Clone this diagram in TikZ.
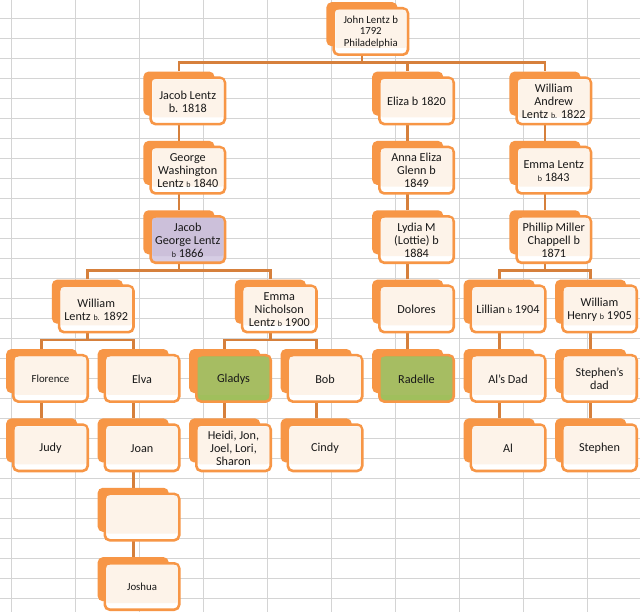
\documentclass[tikz,border=0pt]{standalone}
\usepackage{fontspec}
\setmainfont{Carlito}
\usetikzlibrary{calc}
\pgfdeclarelayer{bg}
\pgfsetlayers{bg,main}
\definecolor{acc}{RGB}{247,150,70}
\definecolor{connc}{RGB}{214,128,60}
\definecolor{cream}{RGB}{253,243,233}
\definecolor{gridc}{RGB}{212,212,212}
\definecolor{purpA}{RGB}{214,205,228}
\definecolor{purpB}{RGB}{204,192,218}
\definecolor{greenA}{RGB}{160,191,92}
\definecolor{greenB}{RGB}{166,189,98}
\definecolor{txtc}{RGB}{25,25,25}
\tikzset{
 backbox/.style={anchor=north west, fill=acc, rounded corners=5pt, minimum width=71pt, minimum height=44pt, inner sep=0pt},
 frontbox/.style={draw=acc, line width=2.6pt, rounded corners=5pt, minimum width=74.4pt, minimum height=46.4pt, inner sep=0pt},
 innerbox/.style={rounded corners=2pt, minimum width=71pt, minimum height=38pt, inner sep=0pt},
 fplain/.style={fill=white}, iplain/.style={fill=cream},
 fpurple/.style={fill=purpA}, ipurple/.style={fill=purpB},
 fgreen/.style={fill=greenA}, igreen/.style={fill=greenB},
 txt/.style={align=center, font=\fontsize{12.2}{13}\selectfont, text=txtc, inner sep=0pt},
 stxt/.style={txt, font=\fontsize{10.8}{11.6}\selectfont},
 connline/.style={draw=connc, line width=2.7pt},
 gridline/.style={draw=gridc, line width=1pt},
}
\newcommand{\bsm}{{\fontsize{8}{8}\selectfont b}}
\newcommand{\bsmd}{{\fontsize{8}{8}\selectfont b.}}
\newcommand{\famnode}[6]{%
 \node[backbox] (#2) at (#3,#4) {};
 \node[frontbox, f#1] (#2-f) at ($(#2.north west)+(44.5,29.5)$) {};
 \node[innerbox, i#1] (#2-i) at ($(#2.north west)+(44.5,27)$) {};
 \node[#5] (#2-t) at ($(#2.north west)+(44.5,30)$) {#6};
}
\newcommand{\link}[2]{\draw[connline] (#1.south) |- ([yshift=9pt]#2.north) -- (#2.north);}
\begin{document}
\begin{tikzpicture}[x=1pt, y=-1pt]
\useasboundingbox (0,0) rectangle (640,612);
% row 0
\famnode{plain}{john}{326.25}{2}{stxt}{John Lentz b\\1792\\Philadelphia}
% row 1
\famnode{plain}{jacob}{143.25}{71.4}{txt}{Jacob Lentz\\b. 1818}
\famnode{plain}{eliza}{372}{71.4}{txt}{Eliza b 1820}
\famnode{plain}{willa}{509.25}{71.4}{txt}{William\\Andrew\\Lentz \bsmd{} 1822}
% row 2
\famnode{plain}{george}{143.25}{140.75}{txt}{George\\Washington\\Lentz \bsm{} 1840}
\famnode{plain}{anna}{372}{140.75}{txt}{Anna Eliza\\Glenn b\\1849}
\famnode{plain}{emma}{509.25}{140.75}{txt}{Emma Lentz\\\bsm{} 1843}
% row 3
\famnode{purple}{jacobg}{143.25}{210.1}{txt}{Jacob\\George Lentz\\\bsm{} 1866}
\famnode{plain}{lydia}{372}{210.1}{txt}{Lydia M\\(Lottie) b\\1884}
\famnode{plain}{phillip}{509.25}{210.1}{txt}{Phillip Miller\\Chappell b\\1871}
% row 4
\famnode{plain}{william}{51.75}{279.5}{txt}{William\\Lentz \bsmd{} 1892}
\famnode{plain}{emman}{234.75}{279.5}{txt}{Emma\\Nicholson\\Lentz \bsm{} 1900}
\famnode{plain}{dolores}{372}{279.5}{txt}{Dolores}
\famnode{plain}{lillian}{463.5}{279.5}{txt}{Lillian \bsm{} 1904}
\famnode{plain}{willh}{555}{279.5}{txt}{William\\Henry \bsm{} 1905}
% row 5
\famnode{plain}{florence}{6}{348.9}{stxt}{Florence}
\famnode{plain}{elva}{97.5}{348.9}{txt}{Elva}
\famnode{green}{gladys}{189}{348.9}{txt}{Gladys}
\famnode{plain}{bob}{280.5}{348.9}{txt}{Bob}
\famnode{green}{radelle}{372}{348.9}{txt}{Radelle}
\famnode{plain}{alsdad}{463.5}{348.9}{txt}{Al's Dad}
\famnode{plain}{stephensdad}{555}{348.9}{txt}{Stephen's\\dad}
% row 6
\famnode{plain}{judy}{6}{418.25}{txt}{Judy}
\famnode{plain}{joan}{97.5}{418.25}{txt}{Joan}
\famnode{plain}{heidi}{189}{418.25}{txt}{Heidi, Jon,\\Joel, Lori,\\Sharon}
\famnode{plain}{cindy}{280.5}{418.25}{txt}{Cindy}
\famnode{plain}{al}{463.5}{418.25}{txt}{Al}
\famnode{plain}{stephen}{555}{418.25}{txt}{Stephen}
% row 7, 8
\famnode{plain}{blank}{97.5}{487.6}{txt}{}
\famnode{plain}{joshua}{97.5}{557}{stxt}{Joshua}
\begin{pgfonlayer}{bg}
\fill[white] (0,0) rectangle (640,612);
\foreach \gx in {11.3,75.3,...,590} \draw[gridline] (\gx,0) -- (\gx,612);
\foreach \k in {0,...,29} \draw[gridline] (0,18.3+20*\k) -- (640,18.3+20*\k);
\link{john}{jacob}
\link{john}{eliza}
\link{john}{willa}
\link{jacob}{george}
\link{george}{jacobg}
\link{eliza}{anna}
\link{anna}{lydia}
\link{lydia}{dolores}
\link{dolores}{radelle}
\link{willa}{emma}
\link{emma}{phillip}
\link{phillip}{lillian}
\link{phillip}{willh}
\link{jacobg}{william}
\link{jacobg}{emman}
\link{william}{florence}
\link{william}{elva}
\link{emman}{gladys}
\link{emman}{bob}
\link{lillian}{alsdad}
\link{alsdad}{al}
\link{willh}{stephensdad}
\link{stephensdad}{stephen}
\link{florence}{judy}
\link{elva}{joan}
\link{joan}{blank}
\link{blank}{joshua}
\link{gladys}{heidi}
\link{bob}{cindy}
\end{pgfonlayer}
\end{tikzpicture}
\end{document}
